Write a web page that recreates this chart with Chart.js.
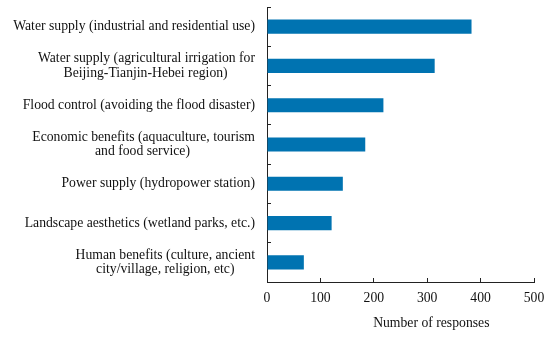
<!DOCTYPE html>
<html><head><meta charset="utf-8">
<script src="https://cdn.jsdelivr.net/npm/chart.js@4"></script>
<style>html,body{margin:0;padding:0;background:#fff}#wrap{width:550px;height:338px}</style>
</head><body><div id="wrap"><canvas id="c"></canvas></div>
<script>
const categories = [
  ["Water supply (industrial and residential use)"],
  ["Water supply (agricultural irrigation for", "Beijing-Tianjin-Hebei region)"],
  ["Flood control (avoiding the flood disaster)"],
  ["Economic benefits (aquaculture, tourism", "and food service)"],
  ["Power supply (hydropower station)"],
  ["Landscape aesthetics (wetland parks, etc.)"],
  ["Human benefits (culture, ancient", "city/village, religion, etc)"]
];
const responses = [383, 314, 218, 184, 142, 121, 69];
const xTicks = [0, 100, 200, 300, 400, 500];
const xTitle = "Number of responses";

const FONT = '"Liberation Serif", "Times New Roman", serif';
const FS = 13.7;
const mctx = document.createElement('canvas').getContext('2d');
mctx.font = FS + 'px ' + FONT;
function centerLines(lines) {
  if (!Array.isArray(lines)) return lines;
  if (lines.length < 2) return lines[0];
  const widths = lines.map(l => mctx.measureText(l).width);
  const maxW = Math.max(...widths);
  const sp = mctx.measureText(' ').width;
  return lines.map((l, i) => l + ' '.repeat(Math.round((maxW - widths[i]) / 2 / sp)));
}
const titleShift = ' '.repeat(Math.round(60 / mctx.measureText(' ').width));
const zeroPad = s => { s.paddingTop = 0; s.paddingBottom = 0; s.paddingLeft = 0; s.paddingRight = 0; };

new Chart(document.getElementById('c'), {
  type: 'bar',
  data: {
    labels: categories,
    datasets: [{
      data: responses,
      backgroundColor: '#0073b1',
      borderWidth: 0,
      barPercentage: 0.36,
      categoryPercentage: 1
    }]
  },
  options: {
    indexAxis: 'y',
    responsive: true,
    maintainAspectRatio: false,
    animation: false,
    layout: { padding: { left: 0, right: 16, top: 7, bottom: 6 } },
    plugins: { legend: { display: false }, tooltip: { enabled: false } },
    scales: {
      x: {
        min: 0, max: 500,
        afterBuildTicks: s => { s.ticks = xTicks.map(v => ({ value: v })); },
        afterFit: s => { zeroPad(s); s.height = 50; },
        grid: { drawOnChartArea: false, tickLength: -4, color: '#222', tickWidth: 1 },
        border: { display: true, color: '#222', width: 1 },
        ticks: { color: '#111', font: { family: FONT, size: FS }, padding: 12 },
        title: { display: true, text: titleShift + xTitle, color: '#111', font: { family: FONT, size: FS }, padding: { top: 8, bottom: 0 } }
      },
      y: {
        afterFit: zeroPad,
        grid: { drawOnChartArea: false, offset: true, tickLength: -4, color: '#222' },
        border: { display: true, color: '#222', width: 1 },
        ticks: {
          color: '#111', font: { family: FONT, size: FS, lineHeight: 1.05 }, padding: 16,
          autoSkip: false,
          callback: function (value) { return centerLines(this.getLabelForValue(value)); }
        }
      }
    }
  }
});
</script></body></html>
